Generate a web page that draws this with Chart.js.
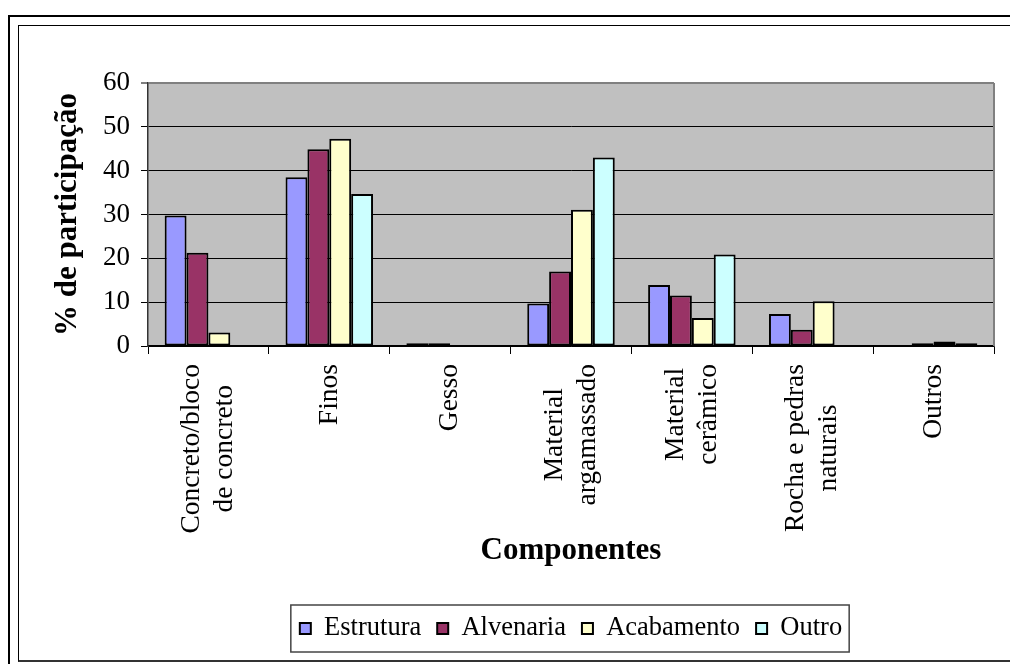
<!DOCTYPE html>
<html>
<head>
<meta charset="utf-8">
<title>Componentes</title>
<script src="https://cdn.jsdelivr.net/npm/chart.js@4/dist/chart.umd.min.js"></script>
<style>
  html, body { margin:0; padding:0; background:#fff; }
  body { width:1010px; height:664px; position:relative; overflow:hidden; }
  .frame-outer { position:absolute; left:8px; top:15px; width:1100px; height:700px; border-left:2px solid #000; border-top:2px solid #000; }
  .frame-inner { position:absolute; left:18px; top:25px; width:1100px; height:634px; border-left:1px solid #000; border-top:1px solid #000; border-bottom:2px solid #333; }
  #chart { position:absolute; left:0; top:0; }
</style>
</head>
<body>
<div class="frame-outer"></div>
<div class="frame-inner"></div>
<canvas id="chart" width="1010" height="664"></canvas>
<script>
// ── Data ──
const categories = [
  ['Concreto/bloco', 'de concreto'],
  ['Finos'],
  ['Gesso'],
  ['Material', 'argamassado'],
  ['Material', 'cerâmico'],
  ['Rocha e pedras', 'naturais'],
  ['Outros']
];
const estrutura  = [29.8, 38.5, 0.6,  9.7, 13.9,  7.3, 0];
const alvenaria  = [21.3, 44.9, 0.6, 17.0, 11.5,  3.7, 0.6];
const acabamento = [ 3.1, 47.3, 0,   31.1,  6.4, 10.2, 1.0];
const outro      = [ 0,   34.7, 0,   43.0, 20.9,  0,   0.6];
const yTicks = [0, 10, 20, 30, 40, 50, 60];

const SERIF = "'Liberation Serif', 'Times New Roman', serif";

// ── Plot background, right border, category labels, legend frame ──
const decorPlugin = {
  id: 'decor',
  beforeDraw(chart) {
    const { ctx, chartArea: a } = chart;
    ctx.save();
    ctx.fillStyle = '#C0C0C0';
    ctx.fillRect(a.left, a.top, a.right - a.left, a.bottom - a.top);
    ctx.restore();
  },
  afterDraw(chart) {
    const { ctx, chartArea: a } = chart;
    const x = chart.scales.x;

    ctx.save();
    ctx.strokeStyle = '#808080';
    ctx.lineWidth = 2;
    ctx.beginPath();
    ctx.moveTo(a.right, a.top);
    ctx.lineTo(a.right, a.bottom);
    ctx.stroke();

    // rotated category labels, lines centred on each other
    ctx.font = '27.5px ' + SERIF;
    ctx.fillStyle = '#000';
    ctx.textAlign = 'center';
    ctx.textBaseline = 'middle';
    const lh = 33;
    categories.forEach((lines, i) => {
      const px = x.getPixelForValue(i);
      const w = Math.max(...lines.map(l => ctx.measureText(l).width));
      ctx.save();
      ctx.translate(px, a.bottom + 18);
      ctx.rotate(-Math.PI / 2);
      lines.forEach((l, j) => ctx.fillText(l, -w / 2, (j - (lines.length - 1) / 2) * lh));
      ctx.restore();
    });

    // box round the legend
    const hb = chart.legend.legendHitBoxes;
    if (hb && hb.length) {
      const left = hb[0].left - 9;
      const right = hb[hb.length - 1].left + hb[hb.length - 1].width + 7;
      const cy = hb[0].top + hb[0].height / 2;
      ctx.strokeStyle = '#444';
      ctx.lineWidth = 1.5;
      ctx.strokeRect(left, cy - 23.5, right - left, 47);
    }
    ctx.restore();
  }
};

new Chart(document.getElementById('chart'), {
  type: 'bar',
  data: {
    labels: categories,
    datasets: [
      { label: 'Estrutura',  data: estrutura,  backgroundColor: '#9999FF' },
      { label: 'Alvenaria',  data: alvenaria,  backgroundColor: '#993366' },
      { label: 'Acabamento', data: acabamento, backgroundColor: '#FFFFCC' },
      { label: 'Outro',      data: outro,      backgroundColor: '#CCFFFF' }
    ].map(d => ({ ...d, borderColor: '#000', borderWidth: 2, borderSkipped: false,
                  categoryPercentage: 0.724, barPercentage: 1.0 }))
  },
  options: {
    responsive: false,
    animation: false,
    layout: { padding: { left: 49, right: 16, top: 83, bottom: 12.25 } },
    plugins: {
      tooltip: { enabled: false },
      legend: {
        position: 'bottom',
        fullSize: false,
        labels: {
          color: '#000',
          font: { family: SERIF, size: 26.5 },
          boxWidth: 11, boxHeight: 11, padding: 16
        }
      }
    },
    scales: {
      x: {
        offset: true,
        grid: { offset: true, drawOnChartArea: false, color: '#000', tickLength: 8 },
        border: { color: '#000', width: 1.5 },
        ticks: { display: false },
        title: {
          display: true, text: 'Componentes', color: '#000',
          font: { family: SERIF, size: 31, weight: 'bold' },
          padding: { top: 0, bottom: 29.5 }
        },
        afterFit(s) { s.height = 253.25; }
      },
      y: {
        min: 0, max: 60,
        afterBuildTicks(s) { s.ticks = yTicks.map(v => ({ value: v })); },
        grid: {
          color: c => c.tick && c.tick.value === 60 ? '#808080' : '#000',
          lineWidth: c => c.tick && c.tick.value === 60 ? 2 : 1,
          tickLength: 7
        },
        border: { color: '#333', width: 1.5 },
        ticks: { color: '#000', padding: 11, font: { family: SERIF, size: 27 } },
        title: {
          display: true, text: '% de participação', color: '#000',
          font: { family: SERIF, size: 31, weight: 'bold' },
          padding: { top: 0, bottom: 0 }
        },
        afterFit(s) { s.width = 99; }
      }
    }
  },
  plugins: [decorPlugin]
});
</script>
</body>
</html>
